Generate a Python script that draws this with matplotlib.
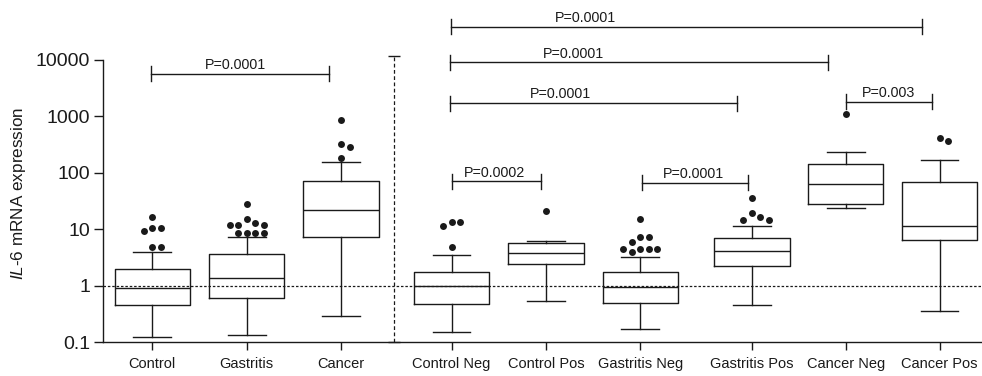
import matplotlib
matplotlib.use("Agg")
import matplotlib.pyplot as plt
from matplotlib.ticker import NullLocator

plt.rcParams['font.family'] = ['Liberation Sans', 'DejaVu Sans']
plt.rcParams['mathtext.fontset'] = 'custom'
plt.rcParams['mathtext.rm'] = 'Liberation Sans'
plt.rcParams['mathtext.it'] = 'Liberation Sans:italic'

# box plot summaries
groups = ["Control", "Gastritis", "Cancer", "Control Neg", "Control Pos",
          "Gastritis Neg", "Gastritis Pos", "Cancer Neg", "Cancer Pos"]
whislo = [0.121, 0.131, 0.29, 0.150, 0.525, 0.172, 0.448, 23.6, 0.36]
q1 = [0.45, 0.60, 7.2, 0.47, 2.40, 0.50, 2.2, 27.4, 6.3]
med = [0.89, 1.34, 21.5, 1.0, 3.77, 0.94, 4.16, 63.7, 11.6]
q3 = [1.94, 3.56, 70, 1.76, 5.58, 1.72, 7.08, 144, 69]
whishi = [3.93, 7.3, 156, 3.43, 6.15, 3.22, 11.4, 235, 167]
fliers = [
    [16.6, 10.3, 10.3, 9.1, 4.75, 4.75],
    [28.3, 15.3, 12.9, 11.8, 11.8, 11.8, 8.67, 8.67, 8.67, 8.67],
    [865, 325, 288, 186],
    [13.3, 13.3, 11.5, 4.75],
    [20.9],
    [15.1, 7.37, 7.37, 5.84, 4.43, 4.43, 4.43, 4.43, 3.88],
    [35.7, 19.4, 16.2, 14.7, 14.7],
    [1090],
    [416, 368],
]

# significance brackets
p_text = ["P=0.0001", "P=0.0001", "P=0.0001", "P=0.0001",
          "P=0.0002", "P=0.0001", "P=0.003"]
p_level = [5650, 38900, 9100, 1713, 70, 67, 1830]
p_from = [0.987, 4.165, 4.155, 4.155, 4.175, 6.184, 8.345]
p_to = [2.873, 9.155, 8.16, 7.19, 5.118, 7.31, 9.26]
p_text_x = [1.886, 5.594, 5.467, 5.319, 4.62, 6.735, 8.804]

# layout
positions = [1, 2, 3, 4.17, 5.17, 6.17, 7.35, 8.345, 9.34]
sep_x = 3.564
ink = '#1a1a1a'

fig = plt.figure(figsize=(9.82, 3.76), dpi=100)
ax = fig.add_axes([0.1052, 0.0904, 0.8948, 0.9096])
ax.set_yscale('log')
ax.set_ylim(0.1, 10 ** 5.062)
ax.set_xlim(0.481, 9.789)

stats = []
for i, name in enumerate(groups):
    stats.append(dict(label=name, whislo=whislo[i], q1=q1[i], med=med[i],
                      q3=q3[i], whishi=whishi[i], fliers=[]))

lp = dict(color=ink, linewidth=1.0)
ax.bxp(stats, positions=positions, widths=0.8, capwidths=0.4,
       showfliers=False, boxprops=lp, whiskerprops=lp, capprops=lp,
       medianprops=lp)


def swarm_x(x0, values, step_px=8.5, min_px=7.0):
    # spread tied outliers sideways so the dots do not overlap
    tr = ax.transData
    placed = []
    out = []
    for v in values:
        px, py = tr.transform((x0, v))
        k = 0
        while True:
            off = ((k + 1) // 2) * (1 if k % 2 else -1)
            cx = px + off * step_px
            if all((cx - a) ** 2 + (py - b) ** 2 >= min_px ** 2 for a, b in placed):
                break
            k += 1
        placed.append((cx, py))
        out.append(tr.inverted().transform((cx, py))[0])
    return out


for x0, vals in zip(positions, fliers):
    xs = swarm_x(x0, vals)
    ax.plot(xs, vals, 'o', color=ink, markersize=5, markeredgewidth=0,
            linestyle='none')

# reference line at 1 and the dashed separator
ax.axhline(1, color=ink, linewidth=0.9, linestyle=(0, (2, 1.5)))
ax.vlines(sep_x, 0.1, 11500, color=ink, linewidth=0.9,
          linestyles=(0, (3, 2)), clip_on=False)
ax.hlines([0.1, 11500], sep_x - 0.064, sep_x + 0.064, color=ink,
          linewidth=1.0, clip_on=False)

# brackets
tick_f = 1.36
for txt, y, a, b, tx in zip(p_text, p_level, p_from, p_to, p_text_x):
    ax.plot([a, b], [y, y], color=ink, linewidth=1.0, clip_on=False)
    ax.plot([a, a], [y / tick_f, y * tick_f], color=ink, linewidth=1.0, clip_on=False)
    ax.plot([b, b], [y / tick_f, y * tick_f], color=ink, linewidth=1.0, clip_on=False)
    ax.annotate(txt, (tx, y), xytext=(0, 3.4), textcoords='offset points',
                ha='center', va='baseline', fontsize=10.3, color=ink)

ax.set_yticks([0.1, 1, 10, 100, 1000, 10000])
ax.set_yticklabels(['0.1', '1', '10', '100', '1000', '10000'])
ax.yaxis.set_minor_locator(NullLocator())
ax.set_xticks(positions)
ax.set_xticklabels(groups)

ax.spines['top'].set_visible(False)
ax.spines['right'].set_visible(False)
ax.spines['left'].set_bounds(0.1, 10000)
for s in ('left', 'bottom'):
    ax.spines[s].set_linewidth(1.0)
    ax.spines[s].set_color(ink)

ax.tick_params(axis='y', direction='out', length=6.5, width=1.0, labelsize=14,
               pad=3, colors=ink)
ax.tick_params(axis='x', direction='out', length=5.5, width=1.0, labelsize=10.5,
               pad=5, colors=ink)

ax.set_ylabel(r'$IL$-6 mRNA expression', fontsize=12.3, color=ink)
ax.yaxis.set_label_coords(-0.086, 0.434)

fig.savefig('out.png', dpi=100)
